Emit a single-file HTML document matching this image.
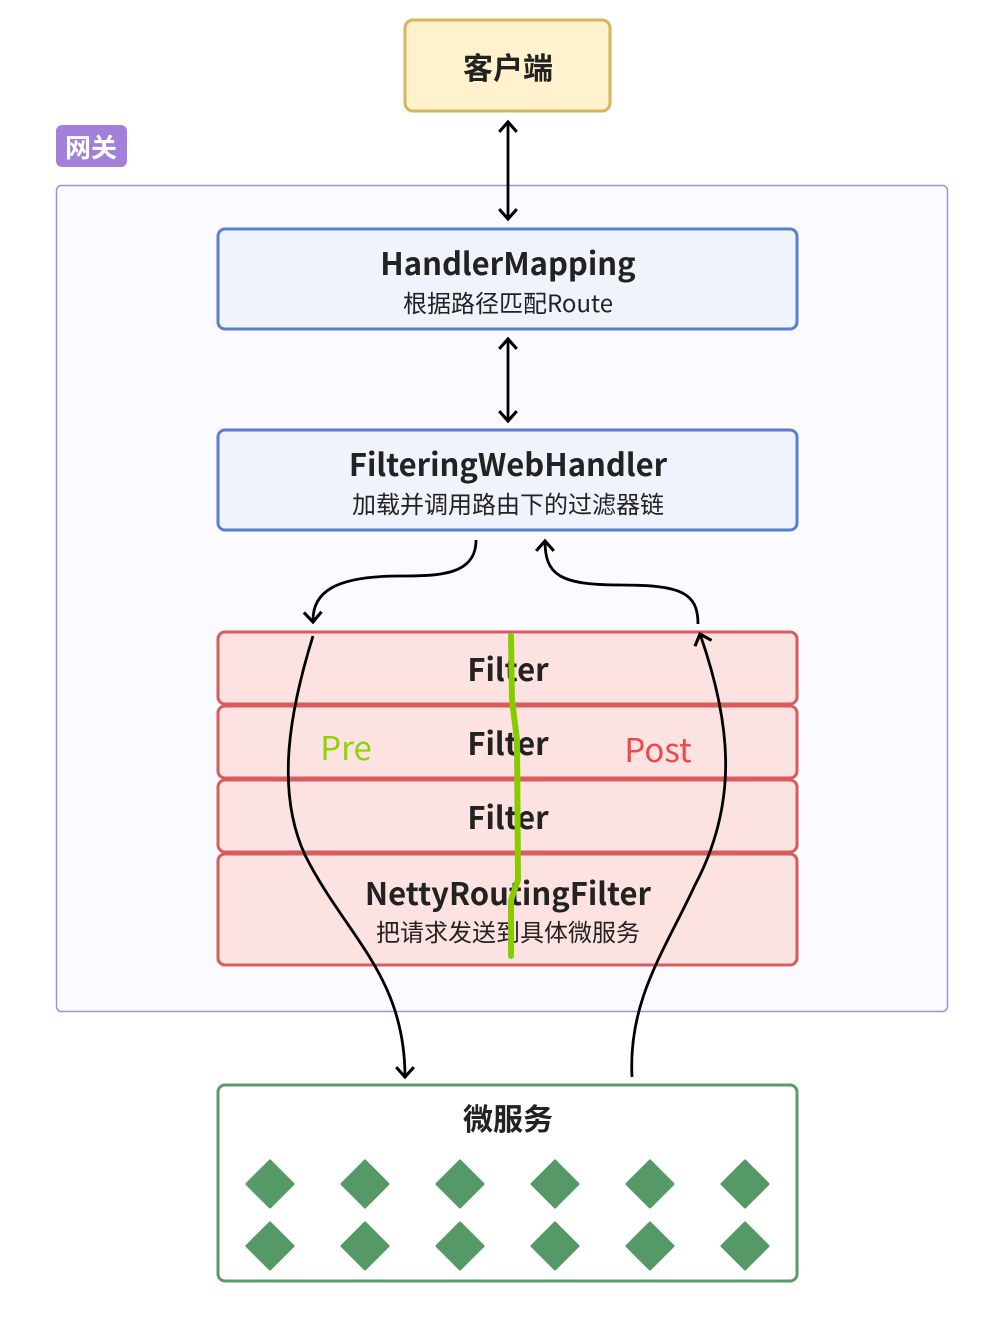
<!DOCTYPE html>
<html><head><meta charset="utf-8"><style>
html,body{margin:0;padding:0;background:#fff;}
svg{display:block;font-family:"Liberation Sans","Noto Sans CJK SC",sans-serif;}
.t{font-family:"Noto Sans CJK SC","Liberation Sans",sans-serif;}
</style></head><body>
<svg width="1004" height="1320" viewBox="0 0 1004 1320" xmlns="http://www.w3.org/2000/svg">
<defs>
<marker id="ah" viewBox="0 0 20 20" refX="10" refY="10" markerWidth="22" markerHeight="22" markerUnits="userSpaceOnUse" orient="auto-start-reverse">
<path d="M1,2 L10,10 L1,18" fill="none" stroke="#000" stroke-width="2.8"/>
</marker>
</defs>
<rect x="405" y="20" width="205" height="91" rx="8" fill="#fff2cc" stroke="#d6b656" stroke-width="3"/>
<text x="508" y="79" text-anchor="middle" class="t" font-size="30" font-weight="bold" fill="#222">客户端</text>
<rect x="56" y="125" width="71" height="42" rx="6" fill="#a27fd8"/>
<text x="91" y="157" text-anchor="middle" class="t" font-size="26" font-weight="bold" fill="#fff">网关</text>
<rect x="56.5" y="185.5" width="891" height="826" rx="5" fill="#fafaff" stroke="#a98bdb" stroke-width="1.5"/>
<line x1="508" y1="122" x2="508" y2="219" stroke="#000" stroke-width="2.8" marker-start="url(#ah)" marker-end="url(#ah)"/>
<line x1="508" y1="339" x2="508" y2="421" stroke="#000" stroke-width="2.8" marker-start="url(#ah)" marker-end="url(#ah)"/>
<rect x="218" y="229" width="579" height="100" rx="7" fill="#eef3fc" stroke="#5a7fcc" stroke-width="3"/>
<text x="508" y="275" text-anchor="middle" class="t" font-size="31" font-weight="bold" fill="#222">HandlerMapping</text>
<text x="508" y="312" text-anchor="middle" class="t" font-size="24" fill="#222">根据路径匹配Route</text>
<rect x="218" y="430" width="579" height="100" rx="7" fill="#eef3fc" stroke="#5a7fcc" stroke-width="3"/>
<text x="508" y="476" text-anchor="middle" class="t" font-size="31" font-weight="bold" fill="#222">FilteringWebHandler</text>
<text x="508" y="513" text-anchor="middle" class="t" font-size="24" fill="#222">加载并调用路由下的过滤器链</text>
<rect x="218" y="632" width="579" height="72" rx="7" fill="#fde2e2" stroke="#d95c5c" stroke-width="3"/>
<rect x="218" y="706" width="579" height="72" rx="7" fill="#fde2e2" stroke="#d95c5c" stroke-width="3"/>
<rect x="218" y="780" width="579" height="72" rx="7" fill="#fde2e2" stroke="#d95c5c" stroke-width="3"/>
<rect x="218" y="854" width="579" height="111" rx="7" fill="#fde2e2" stroke="#d95c5c" stroke-width="3"/>
<text x="508" y="681" text-anchor="middle" class="t" font-size="31" font-weight="bold" fill="#222">Filter</text>
<text x="508" y="755" text-anchor="middle" class="t" font-size="31" font-weight="bold" fill="#222">Filter</text>
<text x="508" y="829" text-anchor="middle" class="t" font-size="31" font-weight="bold" fill="#222">Filter</text>
<text x="508" y="905" text-anchor="middle" class="t" font-size="31" font-weight="bold" fill="#222">NettyRoutingFilter</text>
<text x="508" y="941" text-anchor="middle" class="t" font-size="24" fill="#222">把请求发送到具体微服务</text>
<text x="346" y="760" text-anchor="middle" class="t" font-size="33" fill="#8fd400">Pre</text>
<text x="658" y="762" text-anchor="middle" class="t" font-size="33" fill="#f04848">Post</text>
<path d="M511,636 L512,700 L517,740 L518,880 L511,900 L511,956" fill="none" stroke="#88cc00" stroke-width="6" stroke-linecap="round" stroke-linejoin="round"/>
<path d="M476,540 C476,575 440,576 400,576 C335,576 312,592 313,622" fill="none" stroke="#000" stroke-width="2.8" marker-end="url(#ah)"/>
<path d="M698,624 C698,592 680,585 620,585 C560,585 545,575 545,541" fill="none" stroke="#000" stroke-width="2.8" marker-end="url(#ah)"/>
<path d="M313,636 C290,710 275,790 305,855 C345,935 405,975 405,1077" fill="none" stroke="#000" stroke-width="2.8" marker-end="url(#ah)"/>
<path d="M632,1077 C628,1000 665,950 695,885 C740,800 730,720 700,634" fill="none" stroke="#000" stroke-width="2.8" marker-end="url(#ah)"/>
<rect x="218" y="1085" width="579" height="196" rx="7" fill="#fff" stroke="#5a9a6a" stroke-width="3"/>
<text x="508" y="1130" text-anchor="middle" class="t" font-size="30" font-weight="bold" fill="#222">微服务</text>
<g fill="#559966" stroke="#559966" stroke-width="3" stroke-linejoin="round">
<path d="M270,1161 L293,1184 L270,1207 L247,1184Z"/><path d="M365,1161 L388,1184 L365,1207 L342,1184Z"/>
<path d="M460,1161 L483,1184 L460,1207 L437,1184Z"/><path d="M555,1161 L578,1184 L555,1207 L532,1184Z"/>
<path d="M650,1161 L673,1184 L650,1207 L627,1184Z"/><path d="M745,1161 L768,1184 L745,1207 L722,1184Z"/>
<path d="M270,1223 L293,1246 L270,1269 L247,1246Z"/><path d="M365,1223 L388,1246 L365,1269 L342,1246Z"/>
<path d="M460,1223 L483,1246 L460,1269 L437,1246Z"/><path d="M555,1223 L578,1246 L555,1269 L532,1246Z"/>
<path d="M650,1223 L673,1246 L650,1269 L627,1246Z"/><path d="M745,1223 L768,1246 L745,1269 L722,1246Z"/>
</g>
</svg>
</body></html>
